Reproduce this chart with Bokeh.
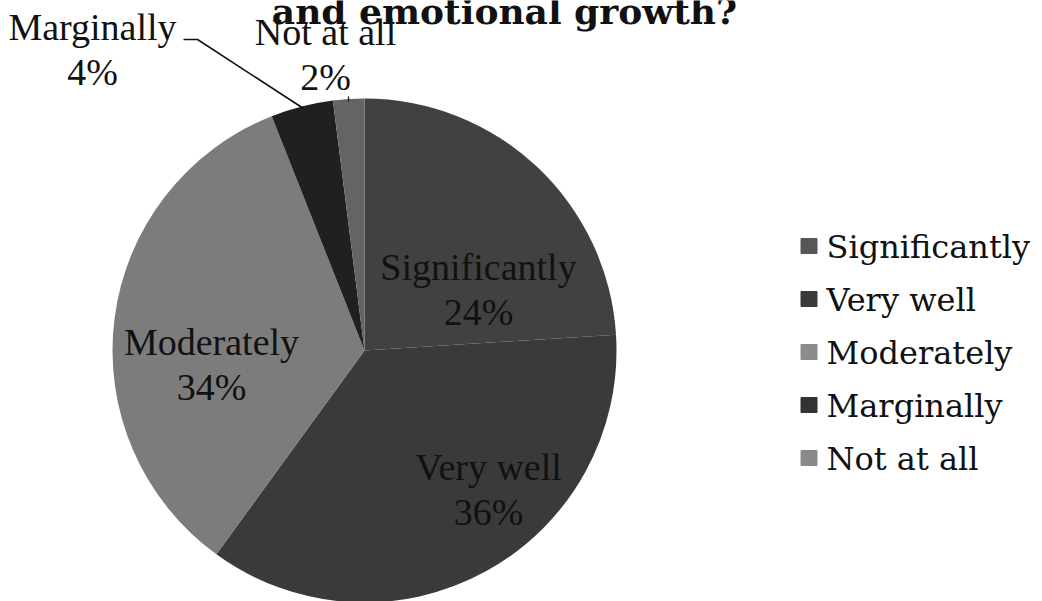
import math
from bokeh.plotting import figure
from bokeh.models import ColumnDataSource, Range1d
from bokeh.core.properties import value
from bokeh.embed import file_html
from bokeh.resources import INLINE

# ---- data ----
categories = ["Significantly", "Very well", "Moderately", "Marginally", "Not at all"]
percents = [24, 36, 34, 4, 2]
title_text = "and emotional growth?"

# ---- styles ----
slice_colors = ["#414141", "#3a3a3a", "#7c7c7c", "#202020", "#646464"]
legend_colors = ["#575757", "#3a3a3a", "#8c8c8c", "#333333", "#8a8a8a"]

W, H = 1042, 601
TEXT_DY = 11  # renderer puts alphabetic baseline slightly low; lift texts

def fx(X):
    return X

def fy(Y):
    return H - Y

def ft(Y):
    return H - Y + TEXT_DY

p = figure(width=W, height=H, output_backend="svg", toolbar_location=None,
           x_range=Range1d(0, W), y_range=Range1d(0, H), min_border=0)
p.axis.visible = False
p.grid.visible = False
p.outline_line_color = None
p.background_fill_color = "white"
p.border_fill_color = "white"

# pie geometry (layout)
cx, cy, R = fx(364), fy(350), 252
total = float(sum(percents))
starts, ends, cum = [], [], 0.0
for v in percents:
    starts.append(math.pi / 2 - 2 * math.pi * cum / total)
    cum += v
    ends.append(math.pi / 2 - 2 * math.pi * cum / total)

src = ColumnDataSource(dict(cat=categories, pct=percents, start=starts, end=ends,
                            color=slice_colors))
p.wedge(x=cx, y=cy, radius=R, start_angle="start", end_angle="end", direction="clock",
        fill_color="color", line_color=None, source=src)

# data labels (positions are layout)
label_pos = {
    "Significantly": (478, 277),
    "Very well": (488, 477),
    "Moderately": (211, 352),
    "Marginally": (92, 37),
    "Not at all": (325, 42),
}
lx = [fx(label_pos[c][0]) for c in categories]
ly1 = [ft(label_pos[c][1]) for c in categories]
ly2 = [ft(label_pos[c][1] + 45) for c in categories]
lsrc = ColumnDataSource(dict(x=lx, y1=ly1, y2=ly2, name=categories,
                             pct=[f"{v}%" for v in percents]))
for col, txt in (("y1", "name"), ("y2", "pct")):
    p.text(x="x", y=col, text=txt, source=lsrc, text_font=value("Liberation Serif"),
           text_font_size="38px", text_align="center", text_baseline="alphabetic",
           text_color="#111111")

# leader lines
p.line([fx(183), fx(197), fx(303)], [fy(39), fy(39), fy(108)], line_color="#111111", line_width=1.6)
p.line([fx(348), fx(348)], [fy(96), fy(101)], line_color="#111111", line_width=1.2)

# legend
lg_y = [fy(245.5 + i * 53) for i in range(len(categories))]
lg_ty = [ft(257 + i * 53) for i in range(len(categories))]
lgsrc = ColumnDataSource(dict(x=[fx(808.5)] * len(categories), tx=[fx(826)] * len(categories),
                              y=lg_y, ty=lg_ty, name=categories, color=legend_colors))
p.rect(x="x", y="y", width=16, height=15, fill_color="color", line_color="color", source=lgsrc)
p.text(x="tx", y="ty", text="name", source=lgsrc, text_font=value("DejaVu Serif"),
       text_font_size="32px", text_align="left", text_baseline="alphabetic", text_color="#111111")

# title (cut off at top as in the reference)
p.text(x=[fx(504)], y=[ft(21)], text=[title_text], text_font=value("DejaVu Serif"),
       text_font_style="bold", text_font_size="36px", text_align="center",
       text_baseline="alphabetic", text_color="#111111")

open("out.html", "w").write(file_html(p, INLINE))
